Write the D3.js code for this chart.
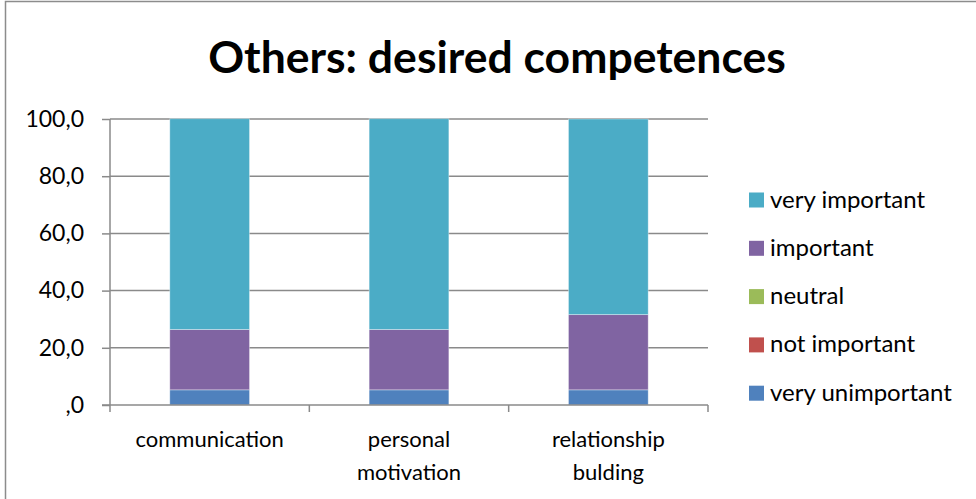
<!DOCTYPE html>
<html>
<head>
<meta charset="utf-8">
<script src="https://cdn.jsdelivr.net/npm/d3@7"></script>
<style>
  html, body { margin: 0; padding: 0; background: #fff; }
  svg { display: block; }
  text { font-family: Lato, "Open Sans", sans-serif; fill: #000; }
</style>
</head>
<body>
<svg id="chart" width="976" height="499"></svg>
<script>
// Survey answers (percent of respondents) per competence
const categories = [["communication"], ["personal", "motivation"], ["relationship", "bulding"]];
const seriesNames = ["very unimportant", "not important", "neutral", "important", "very important"];
const veryUnimportant = [5.3, 5.3, 5.3];
const notImportant = [0, 0, 0];
const neutral = [0, 0, 0];
const important = [21.1, 21.1, 26.3];
const veryImportant = [73.7, 73.7, 68.4];
const yTickValues = [0, 20, 40, 60, 80, 100];
const yTickLabels = [",0", "20,0", "40,0", "60,0", "80,0", "100,0"];
const colors = ["#4F81BD", "#C0504D", "#9BBB59", "#8064A2", "#4BACC6"];

const seriesValues = [veryUnimportant, notImportant, neutral, important, veryImportant];
const rows = categories.map((c, i) => {
  const r = { key: c.join(" ") };
  seriesNames.forEach((s, j) => r[s] = seriesValues[j][i]);
  return r;
});

const svg = d3.select("#chart");
const W = 976, H = 499;
const m = { left: 110, right: 268, top: 119, bottom: 94 };

// outer chart frame
svg.append("rect")
  .attr("x", 5.5).attr("y", 1.5).attr("width", W + 10).attr("height", H + 10)
  .attr("fill", "none").attr("stroke", "#8c8c8c").attr("stroke-width", 1.5);

// title
svg.append("text")
  .attr("x", 497).attr("y", 73)
  .attr("text-anchor", "middle")
  .attr("font-weight", "bold")
  .attr("font-size", 44.5)
  .text("Others: desired competences");

const x = d3.scaleBand().domain(rows.map(r => r.key)).range([m.left, W - m.right]).padding(0);
const y = d3.scaleLinear().domain([0, 100]).range([H - m.bottom, m.top]);
const barW = x.bandwidth() * 0.4;

// gridlines
const grid = svg.append("g");
grid.selectAll("line").data(yTickValues.filter(v => v > 0)).join("line")
  .attr("x1", m.left).attr("x2", W - m.right)
  .attr("y1", d => y(d)).attr("y2", d => y(d))
  .attr("stroke", "#8a8a8a").attr("stroke-width", 1.5);

// stacked bars
const stack = d3.stack().keys(seriesNames)(rows);
const layers = svg.append("g").selectAll("g").data(stack).join("g")
  .attr("fill", (d, i) => colors[i]);
layers.selectAll("rect").data(d => d).join("rect")
  .attr("x", d => x(d.data.key) + (x.bandwidth() - barW) / 2)
  .attr("width", barW)
  .attr("y", d => y(d[1]))
  .attr("height", d => y(d[0]) - y(d[1]))
  .attr("stroke", "rgba(255,255,255,0.45)")
  .attr("stroke-width", d => (d[1] - d[0]) > 0 ? 0.8 : 0);

// y axis
const yAxis = svg.append("g")
  .attr("transform", `translate(${m.left},0)`)
  .call(d3.axisLeft(y).tickValues(yTickValues).tickSize(8).tickPadding(26)
    .tickFormat((d, i) => yTickLabels[i]));
yAxis.select(".domain").attr("stroke", "#8a8a8a").attr("stroke-width", 1.5)
  .attr("d", `M0,${y(100)}V${y(0)}`);
yAxis.selectAll(".tick line").attr("stroke", "#8a8a8a").attr("stroke-width", 1.5)
  .attr("x2", -8);
yAxis.selectAll(".tick text").attr("font-size", 23).attr("font-family", "Lato, sans-serif")
  .attr("fill", "#000").attr("x", -26);

// x axis
const xAxisG = svg.append("g");
xAxisG.append("line")
  .attr("x1", m.left - 8).attr("x2", W - m.right)
  .attr("y1", y(0)).attr("y2", y(0))
  .attr("stroke", "#8a8a8a").attr("stroke-width", 1.5);
const xTicks = x.domain().map(k => x(k)).concat([x.range()[1]]);
xAxisG.selectAll(".xt").data(xTicks).join("line")
  .attr("x1", d => d).attr("x2", d => d)
  .attr("y1", y(0)).attr("y2", y(0) + 7)
  .attr("stroke", "#8a8a8a").attr("stroke-width", 1.5);
const xl = xAxisG.selectAll(".xl").data(rows).join("text")
  .attr("text-anchor", "middle")
  .attr("font-size", 22)
  .attr("x", d => x(d.key) + x.bandwidth() / 2)
  .attr("y", y(0) + 42);
xl.selectAll("tspan").data((d, i) => categories[i]).join("tspan")
  .attr("x", function () { return d3.select(this.parentNode).attr("x"); })
  .attr("dy", (d, i) => i === 0 ? 0 : 33)
  .text(d => d);

// legend (top entry is the top of the stack)
const legendItems = seriesNames.map((s, i) => ({ name: s, color: colors[i] })).reverse();
const lg = svg.append("g").selectAll("g").data(legendItems).join("g")
  .attr("transform", (d, i) => `translate(749,${200 + i * 48.3})`);
lg.append("rect").attr("x", 0).attr("y", -7.5).attr("width", 15).attr("height", 15)
  .attr("fill", d => d.color);
lg.append("text").attr("x", 21).attr("y", 7.5).attr("font-size", 24).text(d => d.name);
</script>
</body>
</html>
